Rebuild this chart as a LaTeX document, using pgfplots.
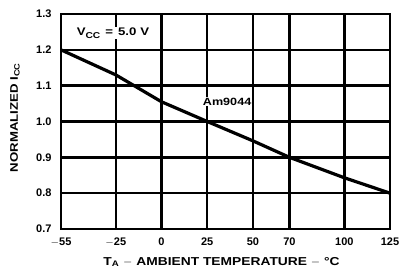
\documentclass[border=0pt]{standalone}
\usepackage{fontspec}
\setmainfont{Liberation Sans}
\newfontfamily\widefont{Liberation Sans}[FakeStretch=1.2]
\usepackage{pgfplots}
\pgfplotsset{compat=1.18}
\begin{document}
\begin{tikzpicture}
\begin{axis}[
  name=ax,
  scale only axis,
  width=329pt, height=215pt,
  xmin=-55, xmax=125, ymin=0.7, ymax=1.3,
  xtick={-55,-25,0,25,50,70,100,125},
  xticklabels={$-$55,$-$25,0,25,50,70,100,125},
  ytick={0.7,0.8,0.9,1.0,1.1,1.2,1.3},
  yticklabels={0.7,0.8,0.9,1.0,1.1,1.2,1.3},
  axis line style={black, line width=2.4pt},
  major tick length=0pt,
  tick label style={font=\bfseries\fontsize{11}{12}\selectfont},
  /pgf/number format/assume math mode=true,
  xticklabel style={anchor=north, yshift=-5pt},
  yticklabel style={anchor=east, xshift=-6pt},
  xlabel={T\textsubscript{A} $-$ AMBIENT TEMPERATURE $-$ °C},
  ylabel={NORMALIZED I\textsubscript{CC}},
  every axis x label/.style={at={(axis description cs:0.5,0)}, anchor=center, xshift=-4pt, yshift=-33pt, font=\widefont\bfseries\fontsize{11.5}{13}\selectfont},
  every axis y label/.style={at={(axis description cs:0,0.5)}, xshift=-46pt, yshift=4pt, rotate=90, anchor=center, font=\widefont\bfseries\fontsize{11}{13}\selectfont},
  clip=false,
]
\pgfplotsinvokeforeach{-25,0,25,50,70,100}{
  \fill[black] ([xshift=-1.2pt]axis cs:#1,0.7) rectangle ([xshift=1.2pt]axis cs:#1,1.3);
}
\pgfplotsinvokeforeach{0.8,0.9,1.0,1.1,1.2}{
  \fill[black] ([yshift=-1.2pt]axis cs:-55,#1) rectangle ([yshift=1.2pt]axis cs:125,#1);
}
\addplot[black, line width=3.2pt] coordinates {
  (-55,1.2) (-25,1.13) (0,1.055) (25,1.0) (50,0.946) (70,0.9) (100,0.843) (125,0.8)
};
\node[fill=white, anchor=west, inner sep=1pt, font=\widefont\bfseries\fontsize{11}{12}\selectfont] at (axis cs:-47,1.247) {V{\fontsize{8.5}{9}\selectfont\raisebox{-2.5pt}{CC}}\hspace{5pt}=\hspace{5pt}5.0\hspace{4pt}V};
\node[fill=white, anchor=west, inner sep=1pt, font=\widefont\bfseries\fontsize{10.5}{12}\selectfont] at (axis cs:22,1.056) {Am9044};
\end{axis}
\pgfresetboundingbox
\path ([xshift=-61pt,yshift=-44pt]ax.south west) rectangle ([xshift=10pt,yshift=14pt]ax.north east);
\end{tikzpicture}
\end{document}
